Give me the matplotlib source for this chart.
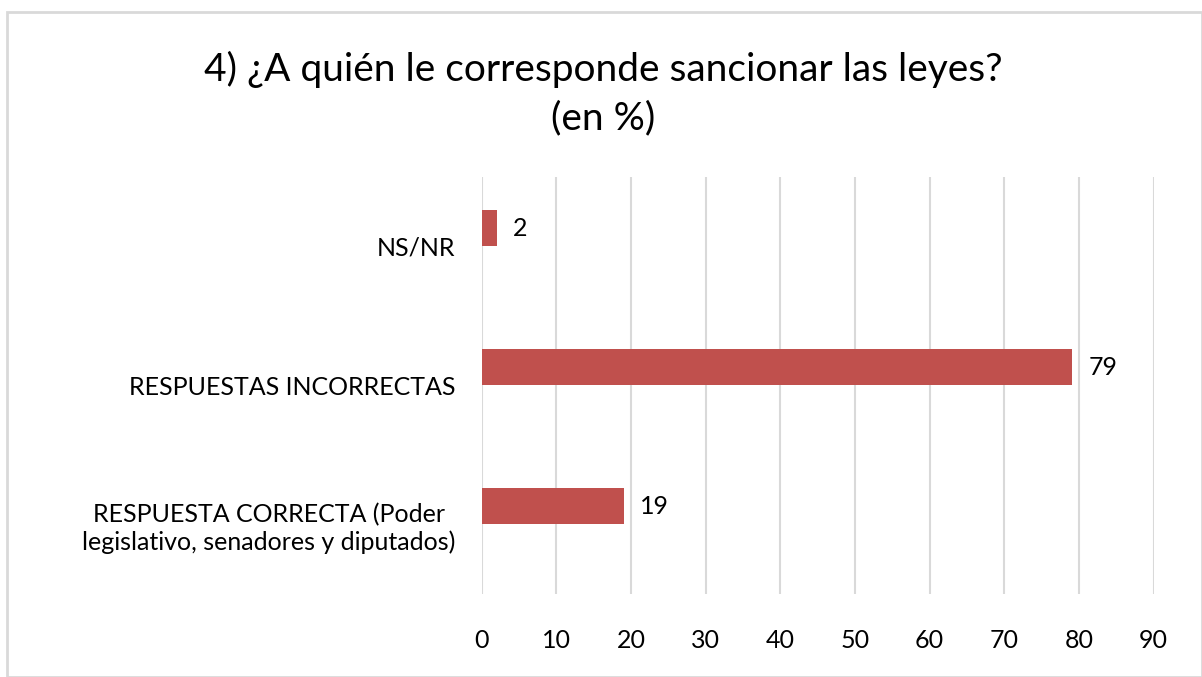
import matplotlib.pyplot as plt
from matplotlib.patches import Rectangle

categories = ["RESPUESTA CORRECTA (Poder\nlegislativo, senadores y diputados)",
              "RESPUESTAS INCORRECTAS",
              "NS/NR"]
values = [19, 79, 2]
xticks = [0, 10, 20, 30, 40, 50, 60, 70, 80, 90]
title = "4) ¿A quién le corresponde sancionar las leyes?\n(en %)"

BAR_COLOR = "#C0504D"
GRID_COLOR = "#D9D9D9"
BAR_HEIGHT = 0.26
BAR_SHIFT = 0.13  # bars sit a bit above their category centre (hidden 2nd series)

plt.rcParams["font.family"] = ["Lato", "DejaVu Sans"]

fig = plt.figure(figsize=(12.02, 6.77), dpi=100)
ax = fig.add_axes([0.4007, 0.1226, 0.5591, 0.616])

pos = list(range(len(categories)))
bar_pos = [p + BAR_SHIFT for p in pos]
ax.barh(bar_pos, values, height=BAR_HEIGHT, color=BAR_COLOR, zorder=3)

for y, v in zip(bar_pos, values):
    ax.annotate(str(v), (v, y), xytext=(12, 0), textcoords="offset points",
                ha="left", va="center", fontsize=18, color="#000000")

ax.set_xlim(0, 90)
ax.set_ylim(-0.5, len(categories) - 0.5)
ax.set_xticks(xticks)
ax.set_xticklabels([str(t) for t in xticks], fontsize=18)
ax.set_yticks(pos)
ax.set_yticklabels(categories, fontsize=18, multialignment="center")
ax.tick_params(axis="x", length=0, pad=25)
ax.tick_params(axis="y", length=0, pad=19)
ax.grid(axis="x", color=GRID_COLOR, linewidth=1.5, zorder=0)
for s in ax.spines.values():
    s.set_visible(False)

fig.text(0.502, 0.862, title, ha="center", va="center", fontsize=28,
         linespacing=1.4)

# light frame round the chart
fig.patches.append(Rectangle((0.006, 0.0), 0.994, 0.982, transform=fig.transFigure,
                             fill=False, edgecolor=GRID_COLOR, linewidth=2))

fig.savefig("out.png", dpi=100)
